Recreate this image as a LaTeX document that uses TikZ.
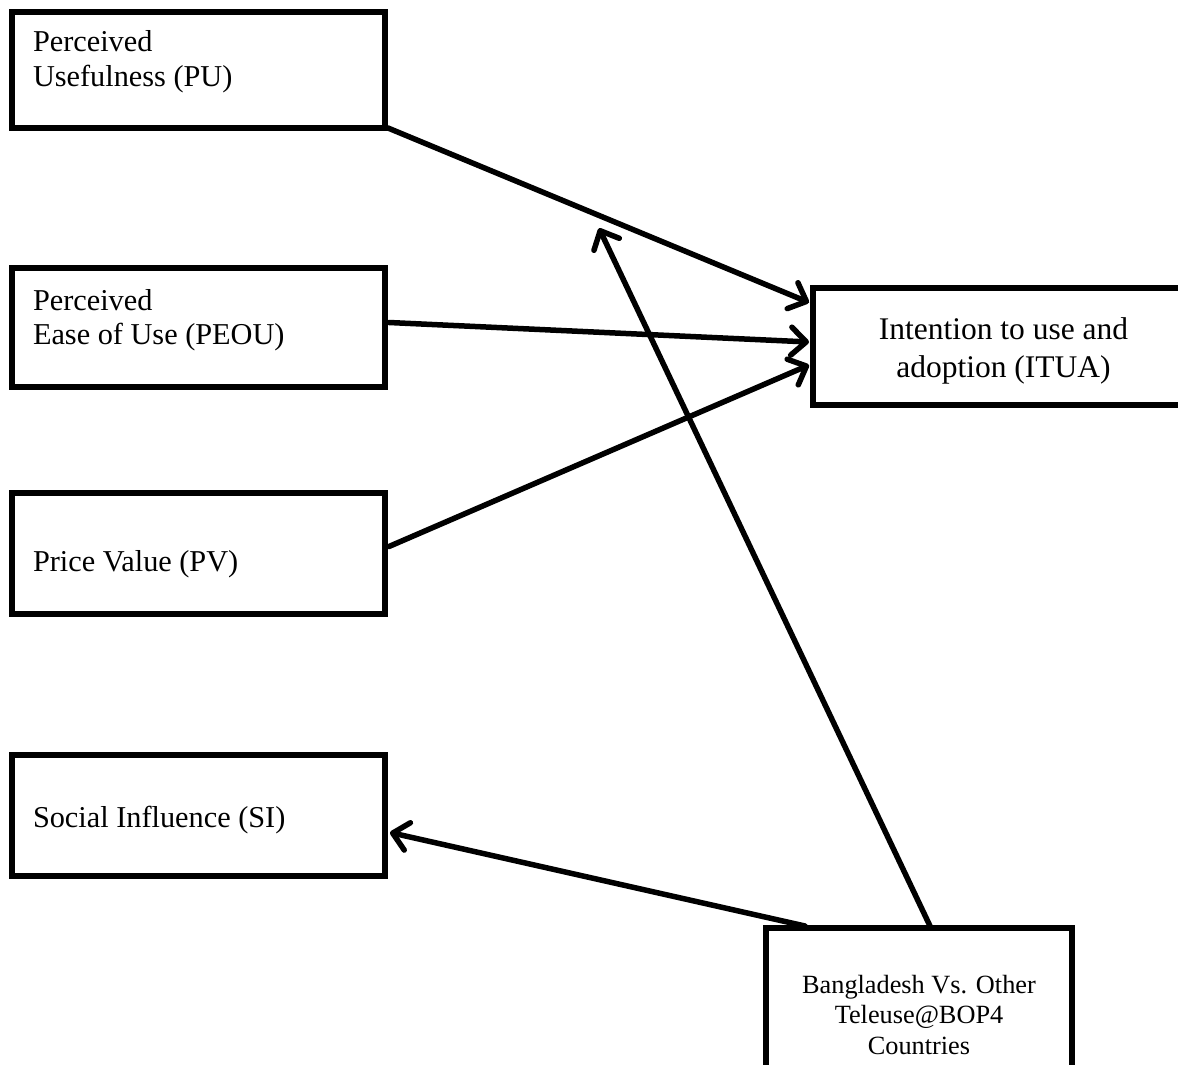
\documentclass[tikz,border=0pt]{standalone}
\usepackage{fontspec}
\setmainfont{Liberation Serif}
\usetikzlibrary{arrows.meta,calc}
\tikzset{
  box/.style={draw, line width=6pt, rectangle, inner sep=0pt, outer sep=0pt},
  lbl/.style={inner sep=0pt, outer sep=0pt, font=\fontsize{30.3}{34.5}\selectfont},
  lblc/.style={inner sep=0pt, outer sep=0pt, font=\fontsize{31.5}{38}\selectfont},
  lbls/.style={inner sep=0pt, outer sep=0pt, font=\fontsize{26.3}{30.5}\selectfont},
  conn/.style={line width=5.5pt, line cap=round, -{Straight Barb[length=15pt,width=28pt,round]}}
}
\begin{document}
\begin{tikzpicture}[x=1pt,y=-1pt]
\useasboundingbox (0,0) rectangle (1178,1065);
\fill[white] (0,0) rectangle (1178,1065);

% boxes
\node[box, minimum width=373pt, minimum height=116pt] (pu) at (198.5,70) {};
\node[box, minimum width=373pt, minimum height=119pt] (peou) at (198.5,327.5) {};
\node[box, minimum width=373pt, minimum height=121pt] (pv) at (198.5,553.5) {};
\node[box, minimum width=373pt, minimum height=121pt] (si) at (198.5,815.5) {};
\node[box, minimum width=390pt, minimum height=117pt] (itua) at (1008,346) {};
\node[box, minimum width=306pt, minimum height=172pt] (bot) at (919,1014) {};

% texts
\node[lbl, anchor=base west] (putxt) at (33,52) {\vtop{\hbox{Perceived}\hbox{Usefulness (PU)}}};
\node[lbl, anchor=base west] (peoutxt) at (33,310) {\vtop{\hbox{Perceived}\hbox{Ease of Use (PEOU)}}};
\node[lbl, anchor=base west] (pvtxt) at (33,571) {Price Value (PV)};
\node[lbl, anchor=base west] (sitxt) at (33,827) {Social Influence (SI)};
\node[lblc, anchor=base] (ituatxt) at (1003.5,339) {\vtop{\hbox to 320pt{\hss Intention to use and\hss}\hbox to 320pt{\hss adoption (ITUA)\hss}}};
\node[lbls, anchor=base] (bottxt) at (919,993) {\vtop{\hbox to 300pt{\hss Bangladesh Vs. Other\hss}\hbox to 300pt{\hss Teleuse@BOP4\hss}\hbox to 300pt{\hss Countries\hss}}};

% connectors
\path (pu.south east) -- coordinate[pos=0.5] (mid) ([yshift=-15pt]itua.north west);
\draw[conn] ([xshift=3pt]pu.south east) -- ([yshift=-15pt,xshift=-4pt]itua.north west);
\draw[conn] ([xshift=4pt,yshift=5pt]peou.east) -- ([yshift=4pt,xshift=-4pt]itua.west);
\draw[conn] ([xshift=4pt,yshift=7pt]pv.east) -- ([yshift=-19pt,xshift=-4pt]itua.west);
\draw[conn] ([xshift=39pt,yshift=2pt]bot.north west) -- ([yshift=-17pt,xshift=5pt]si.east);
\draw[conn] ([xshift=164pt,yshift=2pt]bot.north west) -- ([yshift=-13pt]mid);
\end{tikzpicture}
\end{document}
